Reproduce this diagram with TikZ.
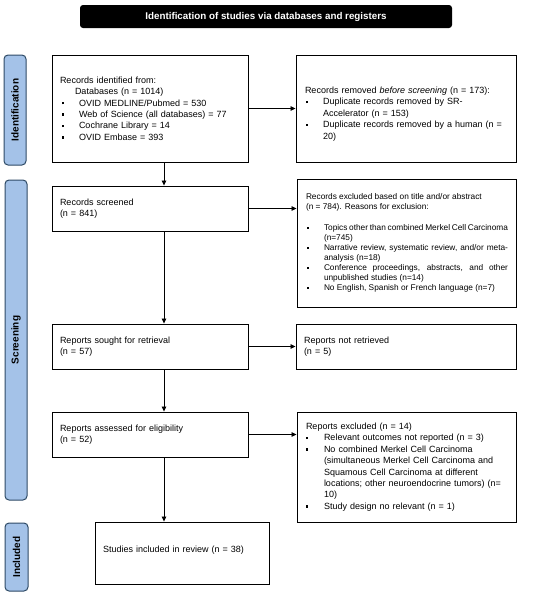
\documentclass[tikz,border=0pt]{standalone}
\usepackage{fontspec}
\setmainfont{Liberation Sans}
\usetikzlibrary{arrows.meta}
\definecolor{sidefill}{HTML}{A4C2E8}
\definecolor{sidedraw}{HTML}{2E4A66}
\newcommand{\bx}[3]{\par\hangindent=#2pt\hangafter=1\noindent\hspace*{#1pt}\makebox[\dimexpr#2pt-#1pt\relax][l]{\rule[1.7pt]{2.3pt}{2.3pt}}#3}
\begin{document}
\begin{tikzpicture}[x=1pt,y=-1pt,
  box/.style={draw=black,line width=0.9pt,inner xsep=8pt,inner ysep=3pt,align=left,
    font=\fontsize{9}{11.4}\selectfont},
  side/.style={draw=sidedraw,fill=sidefill,line width=1pt,rounded corners=4pt},
  sidelabel/.style={rotate=90,font=\fontsize{10}{11}\selectfont\bfseries},
  arr/.style={line width=0.8pt,-{Triangle[length=5pt,width=4.5pt]}}]
\useasboundingbox (0,0) rectangle (550,595);
% title
\node[fill=black,rounded corners=3pt,minimum width=372pt,minimum height=23pt,inner sep=0pt,
  text=white,font=\fontsize{9.8}{10}\selectfont\bfseries] (title) at (266,16.5)
  {Identification of studies via databases and registers};
% side bars
\node[side,minimum width=22pt,minimum height=110pt,inner sep=0pt] (sid) at (15,110) {};
\node[sidelabel] (lid) at (sid.center) {Identification};
\node[side,minimum width=22pt,minimum height=320pt,inner sep=0pt] (ssc) at (16,340) {};
\node[sidelabel] (lsc) at (ssc.center) {Screening};
\node[side,minimum width=23pt,minimum height=68pt,inner sep=0pt] (sin) at (16.5,557) {};
\node[sidelabel] (lin) at (sin.center) {Included};
% boxes
\node[box,text width=180pt,minimum height=107pt] (b1) at (150,108.5) {%
Records identified from:\par
\noindent\hspace*{15pt}Databases (n = 1014)
\bx{2}{19}{OVID MEDLINE/Pubmed = 530}
\bx{2}{19}{Web of Science (all databases) = 77}
\bx{2}{19}{Cochrane Library = 14}
\bx{2}{19}{OVID Embase = 393}\par\vspace*{4pt}};
\node[box,text width=204pt,minimum height=107pt] (b2) at (406,108.5) {%
\vspace*{6pt}\par\noindent\hspace*{1pt}Records removed \emph{before screening} (n = 173):
\bx{2}{19}{Duplicate records removed by SR-\newline Accelerator (n = 153)}
\bx{2}{19}{Duplicate records removed by a human (n =\newline 20)}\par};
\node[box,text width=180pt,minimum height=45pt] (b3) at (150,208.5) {Records screened\\(n = 841)};
\node[box,text width=203pt,minimum height=128pt,align=justify,
  font=\fontsize{8.3}{10}\selectfont] (b4) at (406.5,243) {%
\noindent\hspace*{1pt}Records excluded based on title and/or abstract\\
\hspace*{1pt}(n = 784). Reasons for exclusion:\par\vspace*{11pt}
\bx{2}{19}{Topics other than combined Merkel Cell Carcinoma\linebreak (n=745)}
\bx{2}{19}{Narrative review, systematic review, and/or meta-\linebreak analysis (n=18)}
\bx{2}{19}{Conference proceedings, abstracts, and other\linebreak unpublished studies (n=14)}
\bx{2}{19}{No English, Spanish or French language (n=7)}\par};
\node[box,text width=180pt,minimum height=45pt] (b5) at (150,346.5) {Reports sought for retrieval\\(n = 57)};
\node[box,text width=204pt,minimum height=45pt] (b6) at (406,346.5) {Reports not retrieved\\(n = 5)};
\node[box,text width=180pt,minimum height=45pt] (b7) at (150,434.5) {Reports assessed for eligibility\\(n = 52)};
\node[box,text width=203pt,minimum height=110pt] (b8) at (406.5,467) {%
\hspace*{1pt}Reports excluded (n = 14)
\bx{1}{19}{Relevant outcomes not reported (n = 3)}
\bx{1}{19}{No combined Merkel Cell Carcinoma\newline (simultaneous Merkel Cell Carcinoma and\newline Squamous Cell Carcinoma at different\newline locations; other neuroendocrine tumors) (n=\newline 10)}
\bx{1}{19}{Study design no relevant (n = 1)}\par};
\node[box,text width=158pt,minimum height=62pt] (b9) at (182,553) {Studies included in review (n = 38)\vspace*{6pt}};
% connectors
\coordinate (ax) at (164,0);
\draw[arr] (b1.south -| ax) -- (b3.north -| ax);
\draw[arr] (b3.south -| ax) -- (b5.north -| ax);
\draw[arr] (b5.south -| ax) -- (b7.north -| ax);
\draw[arr] (b7.south -| ax) -- (b9.north -| ax);
\draw[arr] (b1.east) -- (b2.west |- b1.east);
\draw[arr] (b3.east) -- (b4.west |- b3.east);
\draw[arr] (b5.east) -- (b6.west |- b5.east);
\draw[arr] (b7.east) -- (b8.west |- b7.east);
\end{tikzpicture}
\end{document}
